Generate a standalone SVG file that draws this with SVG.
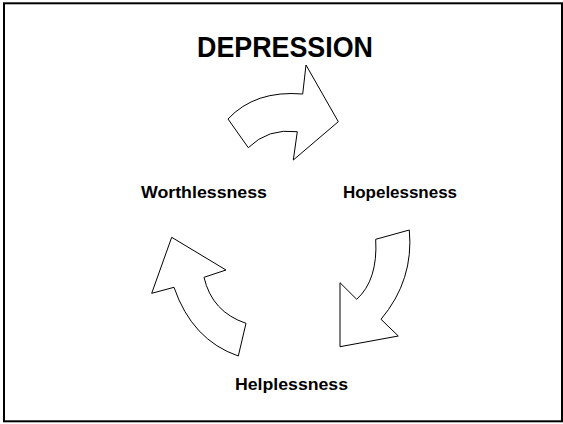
<svg xmlns="http://www.w3.org/2000/svg" width="563" height="424" viewBox="0 0 563 424">
  <style>
    .title { font-family: "Liberation Sans", Arial, sans-serif; font-weight: bold; font-size: 29px; fill: #000; }
    .label { font-family: "Liberation Sans", Arial, sans-serif; font-weight: bold; font-size: 16px; fill: #000; }
    .arrow { fill: #fff; stroke: #000; stroke-width: 1; stroke-linejoin: miter; }
  </style>
  <rect x="0" y="0" width="563" height="424" fill="#fff"/>
  <rect x="4" y="3.3" width="558" height="418" fill="none" stroke="#000" stroke-width="2"/>
  <text class="title" x="197" y="57" textLength="176" lengthAdjust="spacingAndGlyphs">DEPRESSION</text>
  <g id="worthlessness">
    <text class="label" x="141" y="198" textLength="126" lengthAdjust="spacingAndGlyphs">Worthlessness</text>
  </g>
  <g id="hopelessness">
    <text class="label" x="343" y="198" textLength="114" lengthAdjust="spacingAndGlyphs">Hopelessness</text>
  </g>
  <g id="helplessness">
    <text class="label" x="235" y="390" textLength="113" lengthAdjust="spacingAndGlyphs">Helplessness</text>
  </g>
  <g id="connectors">
    <path class="arrow" d="M228,119 Q255,90 302.7,94 L306,65 L338.3,121.7 L293.3,160 L297.3,131.7 Q268,128 248.3,147.7 Z"/>
    <path class="arrow" d="M375.7,239.3 L409.3,230 Q414,280 381,319.3 L398.3,336 L340,346.7 L340,282.7 L356.7,299.3 Q378,280 375.7,239.3 Z"/>
    <path class="arrow" d="M171.7,237.3 L226,270 L204,277.3 Q212,312 246,323.3 L238.3,356 Q192,340 174,287.3 L151.7,293.3 Z"/>
  </g>
</svg>
